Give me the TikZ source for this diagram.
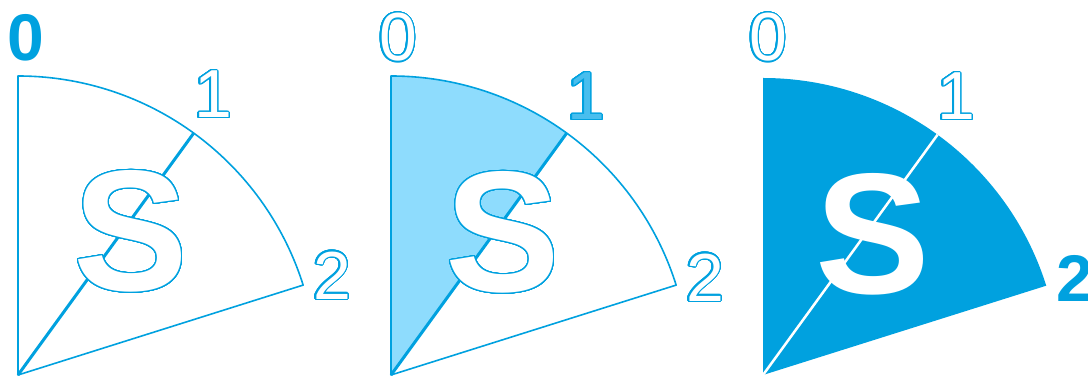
\documentclass[tikz,border=0pt]{standalone}
\usepackage{fontspec}
\setmainfont{Liberation Sans}
\usepackage[copies]{contour}
\usetikzlibrary{positioning}
\definecolor{sblue}{RGB}{0,161,223}
\definecolor{smid}{RGB}{72,190,238}
\definecolor{slight}{RGB}{142,220,253}
\contourlength{1.2pt}
\contournumber{40}
\newcommand{\hollow}[1]{\contour{sblue}{#1}}

\begin{document}
\begin{tikzpicture}[x=1pt, y=1pt,
  edge/.style={draw=sblue, line width=1.6pt, line join=round},
  spoke/.style={draw=sblue, line width=3pt},
  digit/.style={inner sep=0pt, text=white, font=\fontsize{68}{68}\selectfont},
  bigdigit/.style={inner sep=0pt, text=sblue, font=\fontsize{66}{66}\bfseries\selectfont},
  letter/.style={inner sep=0pt, text=white, font=\fontsize{172}{172}\bfseries\selectfont}
]
  \useasboundingbox (0,0) rectangle (1088,377);

  % first sector: outline only
  \coordinate (o1) at (18,2);
  \coordinate (t1) at ([shift={(90:299)}]o1);
  \coordinate (m1) at ([shift={(54:299)}]o1);
  \coordinate (e1) at ([shift={(17.5:299)}]o1);
  \draw[edge] (o1) -- (t1) arc[start angle=90, end angle=17.5, radius=299] -- cycle;
  \draw[spoke] (o1) -- (m1);
  \node[letter] (s1) at (131,145) {\hollow{S}};
  \node[bigdigit] (z1) at (26,339) {0};
  \node[digit] (n1) at (213,282) {\hollow{1}};
  \node[digit] (w1) at (332,101) {\hollow{2}};

  % second sector: first part filled
  \coordinate (o2) at (391,2);
  \coordinate (t2) at ([shift={(90:299)}]o2);
  \coordinate (m2) at ([shift={(54:299)}]o2);
  \coordinate (e2) at ([shift={(17.5:299)}]o2);
  \fill[slight] (o2) -- (t2) arc[start angle=90, end angle=54, radius=299] -- cycle;
  \draw[edge] (o2) -- (t2) arc[start angle=90, end angle=17.5, radius=299] -- cycle;
  \draw[spoke] (o2) -- (m2);
  \node[letter] (s2) at (503,144) {\hollow{S}};
  \node[digit] (z2) at (398,339) {\hollow{0}};
  \node[digit, text=smid] (n2) at (586,280) {\hollow{1}};
  \node[digit] (w2) at (705,99) {\hollow{2}};

  % third sector: all filled
  \coordinate (o3) at (763,2);
  \coordinate (t3) at ([shift={(90:297)}]o3);
  \coordinate (m3) at ([shift={(54:297)}]o3);
  \coordinate (e3) at ([shift={(17.5:297)}]o3);
  \fill[sblue] (o3) -- (t3) arc[start angle=90, end angle=17.5, radius=297] -- cycle;
  \draw[white, line width=2.5pt] (o3) -- (m3);
  \node[letter] (s3) at (873,143) {S};
  \node[digit] (z3) at (768,339) {\hollow{0}};
  \node[digit] (n3) at (956,280) {\hollow{1}};
  \node[bigdigit] (w3) at (1075,99) {2};
\end{tikzpicture}
\end{document}
